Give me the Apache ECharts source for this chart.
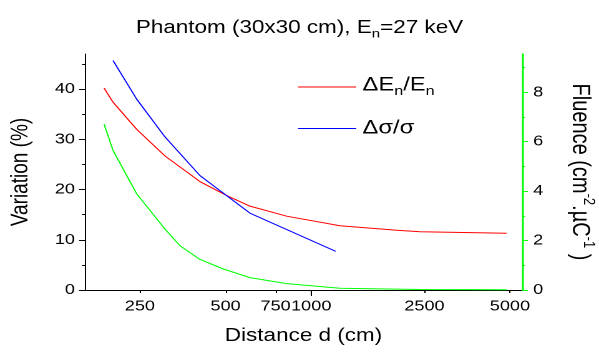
<!DOCTYPE html>
<html>
<head>
<meta charset="utf-8">
<script src="https://cdn.jsdelivr.net/npm/echarts@6/dist/echarts.min.js"></script>
<style>
  html, body { margin: 0; padding: 0; background: #fff; overflow: hidden; }
  /* the reference picture is stretched sideways, so the chart is drawn narrower and widened */
  #chart { width: 480px; height: 352px; transform: scaleX(1.247917); transform-origin: 0 0; }
</style>
</head>
<body>
<div id="chart"></div>
<script>
// values
const dEDist = [187, 201, 243.5, 306, 406, 504.5, 609, 820, 1262, 2000, 2413, 4867]
const dEVal = [40.2, 37.4, 32.0, 26.7, 21.6, 18.8, 16.7, 14.7, 12.8, 11.9, 11.6, 11.3]
const dsDist = [201, 243.5, 306, 406, 609, 1219]
const dsVal = [45.7, 38.0, 30.5, 22.8, 15.3, 7.7]
const flDist = [187, 201, 243.5, 306, 345.6, 406, 490.8, 609, 820, 1262, 2413, 4867]
const flVal = [6.71, 5.65, 3.89, 2.47, 1.79, 1.24, 0.85, 0.50, 0.26, 0.07, 0.02, 0.01]

const xTicks = [250, 500, 750, 1000, 2500, 5000]
const leftLabels = [0, 10, 20, 30, 40]
const leftMinor = [0, 5, 10, 15, 20, 25, 30, 35, 40, 45]
const rightLabels = [0, 2, 4, 6, 8]
const rightMinor = [0, 1, 2, 3, 4, 5, 6, 7, 8, 9]

const FONT = 'Liberation Sans, Arial, sans-serif'
const zip = (xs, ys) => xs.map((x, i) => [x, ys[i]])

const chart = echarts.init(document.getElementById('chart'), null, { devicePixelRatio: 2 })

const txt = (size, extra) => Object.assign({ fontSize: size, fontFamily: FONT, fontWeight: 'normal', color: '#000' }, extra)

const option = {
  animation: false,
  textStyle: { fontFamily: FONT, color: '#000' },
  title: {
    text: '{a|Phantom (30x30 cm), E}{s|n}{a|=27 keV}',
    left: 'center',
    top: 14,
    textStyle: {
      rich: {
        a: txt(18, { lineHeight: 18, verticalAlign: 'top' }),
        s: txt(12, { lineHeight: 21, verticalAlign: 'bottom' })
      }
    }
  },
  legend: {
    data: ['dE', 'ds'],
    orient: 'vertical',
    left: 233.8,
    top: 71,
    icon: 'rect',
    itemWidth: 46.7,
    itemHeight: 1,
    itemGap: 21,
    formatter: function (name) {
      return name === 'dE' ? '{a|ΔE}{s|n}{a|/E}{s|n}' : '{a|Δσ/σ}'
    },
    textStyle: {
      rich: {
        a: txt(19, { lineHeight: 19, verticalAlign: 'top' }),
        s: txt(13, { lineHeight: 22, verticalAlign: 'bottom' })
      }
    }
  },
  grid: { left: 68.1, right: 61.7, top: 54, bottom: 62, outerBoundsMode: 'none' },
  xAxis: [{
    type: 'log',
    logBase: 10,
    min: 160.2,
    max: 5510,
    position: 'bottom',
    name: 'Distance d (cm)',
    nameLocation: 'middle',
    nameGap: 37,
    nameTextStyle: txt(18),
    axisLine: { onZero: false, lineStyle: { color: '#000', width: 1 } },
    axisTick: { customValues: xTicks, length: 3, lineStyle: { color: '#000' } },
    axisLabel: {
      customValues: xTicks,
      margin: 9,
      fontSize: 14.5,
      color: '#000',
      formatter: v => String(Math.round(v))
    },
    splitLine: { show: false }
  }, {
    type: 'log',
    logBase: 10,
    min: 160.2,
    max: 5510,
    position: 'bottom',
    axisLine: { show: false, onZero: false },
    axisTick: { customValues: [1000], length: 6, lineStyle: { color: '#000' } },
    axisLabel: { show: false },
    splitLine: { show: false }
  }],
  yAxis: [{
    type: 'value',
    position: 'left',
    min: 0,
    max: 47,
    name: 'Variation (%)',
    nameLocation: 'middle',
    nameRotate: 90,
    nameGap: 42,
    nameTextStyle: txt(19),
    axisLine: { show: true, onZero: false, lineStyle: { color: '#000', width: 1 } },
    axisTick: { customValues: leftMinor, length: 2.4, lineStyle: { color: '#000' } },
    axisLabel: { customValues: leftLabels, margin: 8, fontSize: 14.5, color: '#000' },
    splitLine: { show: false }
  }, {
    type: 'value',
    position: 'right',
    min: 0,
    max: 9.55,
    name: '{a|Fluence (cm}{p|-2}{a|.µC}{p|-1}{a| )}',
    nameLocation: 'middle',
    nameRotate: -90,
    nameGap: 36,
    nameTextStyle: {
      rich: {
        a: txt(20, { lineHeight: 20, verticalAlign: 'bottom' }),
        p: txt(13, { lineHeight: 24, verticalAlign: 'top' })
      }
    },
    axisLine: { show: true, onZero: false, lineStyle: { color: '#00ff00', width: 1.5 } },
    axisTick: { customValues: rightMinor, length: 2.4, lineStyle: { color: '#00ff00' } },
    axisLabel: { customValues: rightLabels, margin: 9, fontSize: 14.5, color: '#000' },
    splitLine: { show: false }
  }, {
    type: 'value',
    position: 'left',
    min: 0,
    max: 47,
    axisLine: { show: false, onZero: false },
    axisTick: { customValues: leftLabels, length: 4.8, lineStyle: { color: '#000' } },
    axisLabel: { show: false },
    splitLine: { show: false }
  }, {
    type: 'value',
    position: 'right',
    min: 0,
    max: 9.55,
    axisLine: { show: false, onZero: false },
    axisTick: { customValues: rightLabels, length: 4.8, lineStyle: { color: '#00ff00' } },
    axisLabel: { show: false },
    splitLine: { show: false }
  }],
  series: [{
    name: 'dE',
    type: 'line',
    xAxisIndex: 0,
    yAxisIndex: 0,
    data: zip(dEDist, dEVal),
    symbol: 'none',
    lineStyle: { color: '#ff0000', width: 1 },
    itemStyle: { color: '#ff0000' }
  }, {
    name: 'ds',
    type: 'line',
    xAxisIndex: 0,
    yAxisIndex: 0,
    data: zip(dsDist, dsVal),
    symbol: 'none',
    lineStyle: { color: '#0000ff', width: 1 },
    itemStyle: { color: '#0000ff' }
  }, {
    name: 'fluence',
    type: 'line',
    xAxisIndex: 0,
    yAxisIndex: 1,
    data: zip(flDist, flVal),
    symbol: 'none',
    lineStyle: { color: '#00ff00', width: 1 },
    itemStyle: { color: '#00ff00' }
  }]
}

chart.setOption(option)
</script>
</body>
</html>
